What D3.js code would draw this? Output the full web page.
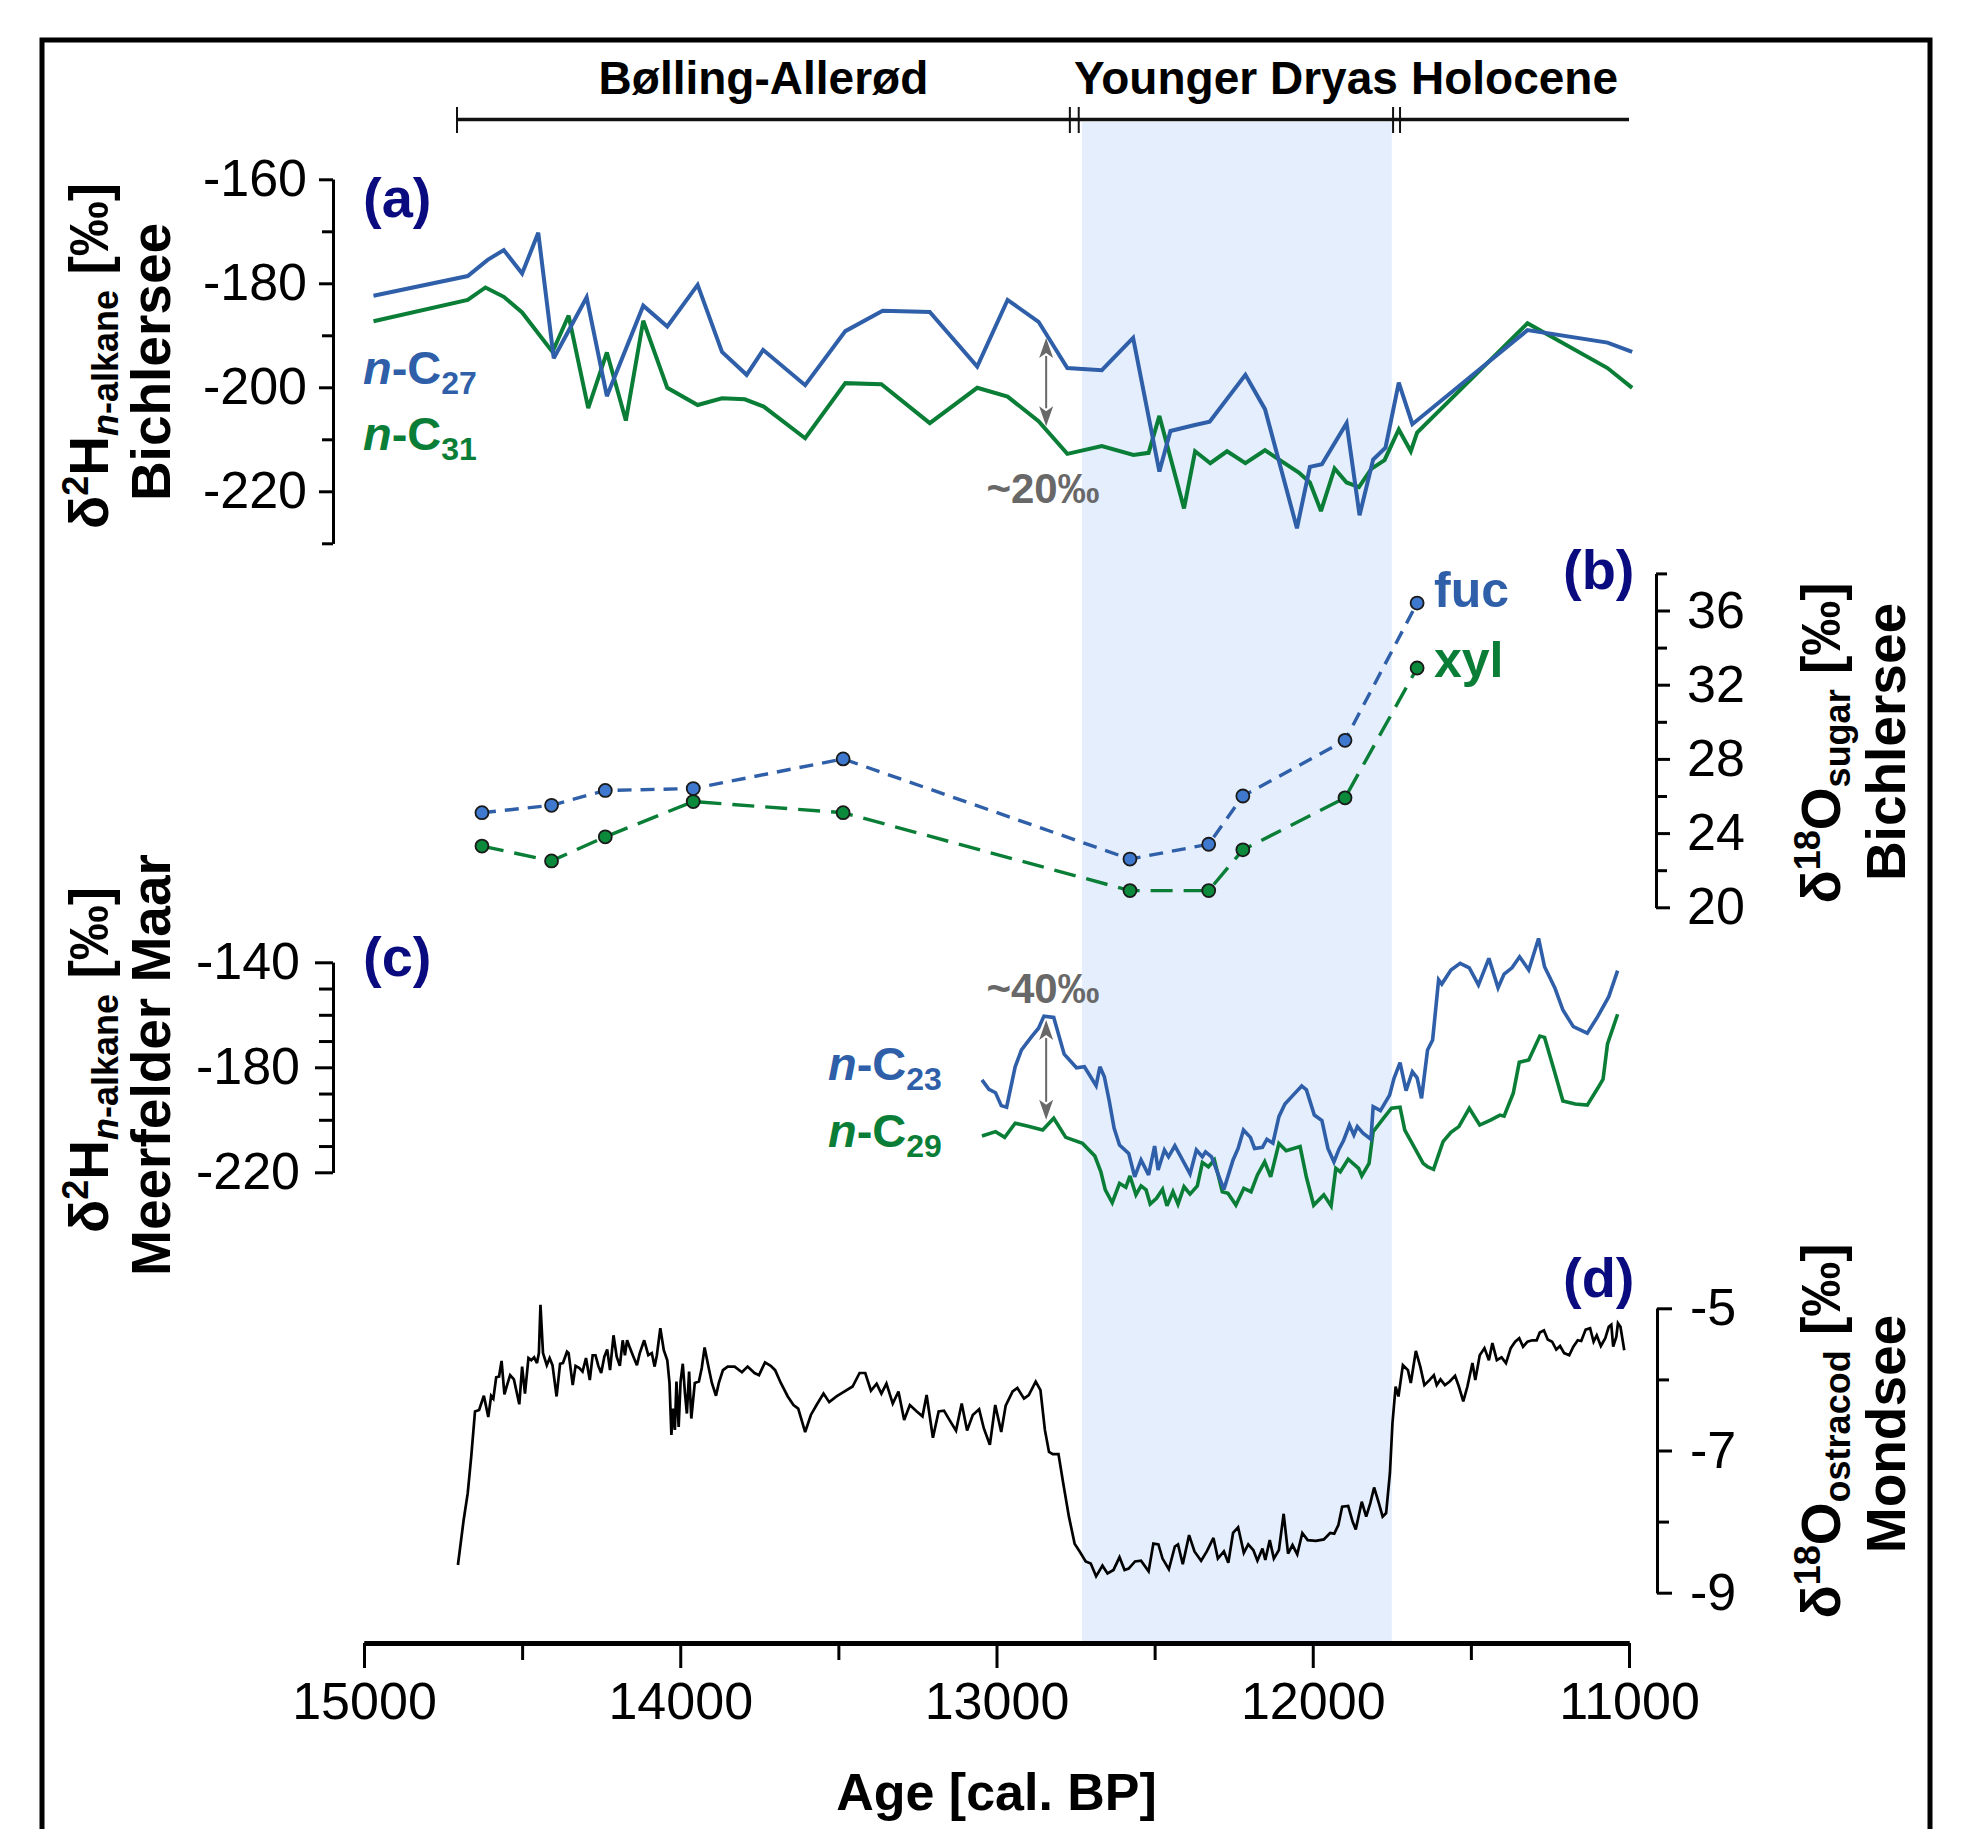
<!DOCTYPE html>
<html>
<head>
<meta charset="utf-8">
<script src="https://cdn.jsdelivr.net/npm/d3@7/dist/d3.min.js"></script>
<style>
  body { margin: 0; background: #fff; }
  svg text { font-family: "Liberation Sans", Arial, Helvetica, sans-serif; }
</style>
</head>
<body>
<svg id="chart" width="1962" height="1829"></svg>
<script>
// ---------- data ----------
// climate periods (cal. BP) for the bar on top
const periodNames = ["Bølling-Allerød", "Younger Dryas", "Holocene"];
const periodBounds = [[14706, 12768], [12740, 11746], [11724, 11000]];
const youngerDryas = [12730, 11750];

// (a) Bichlersee δ2H n-alkanes [age, ‰]
const nC27 = [[14970,-182.4],[14672,-178.6],[14609,-175.5],[14558,-173.6],[14500,-178.1],[14449,-170.3],[14400,-194.4],[14296,-182.7],[14232,-201.7],[14117,-184.3],[14041,-188.3],[13945,-180.3],[13868,-193.2],[13790,-197.6],[13738,-192.8],[13605,-199.6],[13478,-189.2],[13360,-185.3],[13211,-185.5],[13061,-196.0],[12965,-183.2],[12867,-187.4],[12776,-196.3],[12667,-196.7],[12568,-190.5],[12485,-216.2],[12450,-208.4],[12376,-207.3],[12326,-206.6],[12213,-197.6],[12151,-204.2],[12050,-227.1],[12009,-215.3],[11971,-214.8],[11893,-206.9],[11852,-224.6],[11809,-213.9],[11770,-211.6],[11728,-199.1],[11685,-207.1],[11321,-189.0],[11068,-191.4],[10990,-193.2]];
const nC31 = [[14970,-187.3],[14672,-183.2],[14616,-180.8],[14558,-182.6],[14500,-185.6],[14404,-193.2],[14353,-186.2],[14291,-204.0],[14232,-193.3],[14172,-206.4],[14117,-187.2],[14041,-200.1],[13945,-203.4],[13868,-202.1],[13796,-202.3],[13736,-203.7],[13605,-209.8],[13478,-199.2],[13364,-199.4],[13211,-206.9],[13061,-200.1],[12965,-201.8],[12867,-206.5],[12776,-212.8],[12667,-211.3],[12567,-213.0],[12519,-212.6],[12485,-205.5],[12407,-223.3],[12372,-212.3],[12324,-214.6],[12271,-212.3],[12213,-214.6],[12151,-212.1],[12044,-216.4],[12009,-218.3],[11974,-223.8],[11931,-215.6],[11893,-218.3],[11854,-219.2],[11815,-215.7],[11773,-214.0],[11728,-208.1],[11690,-212.3],[11670,-208.7],[11321,-187.7],[11068,-196.3],[10990,-200.1]];

// (b) Bichlersee δ18O of sugars
const sugarAge = [14627, 14407, 14237, 13959, 13485, 12578, 12329, 12221, 11898, 11670];
const fucValues = [25.1, 25.5, 26.3, 26.4, 28.0, 22.6, 23.4, 26.0, 29.0, 36.4];
const xylValues = [23.3, 22.5, 23.8, 25.7, 25.1, 20.9, 20.9, 23.1, 25.9, 32.9];

// (c) Meerfelder Maar δ2H n-alkanes [age, ‰]
const nC23 = [[13046,-184.8],[13024,-188.4],[13003,-189.7],[12985,-194.6],[12968,-195.2],[12941,-179.8],[12921,-173.4],[12889,-168.3],[12867,-165.1],[12850,-160.5],[12819,-161.0],[12786,-175.0],[12747,-180.2],[12722,-179.8],[12685,-187.0],[12673,-179.8],[12659,-183.6],[12644,-192.5],[12628,-203.2],[12611,-209.6],[12582,-212.8],[12563,-221.7],[12543,-215.3],[12519,-221.0],[12500,-210.0],[12489,-219.1],[12469,-211.5],[12456,-214.1],[12436,-209.9],[12417,-214.1],[12388,-220.6],[12368,-211.5],[12349,-214.1],[12339,-212.2],[12320,-214.1],[12281,-226.5],[12252,-215.3],[12236,-210.9],[12219,-203.9],[12197,-206.7],[12184,-210.9],[12159,-210.5],[12145,-207.4],[12126,-208.9],[12107,-198.8],[12088,-194.0],[12062,-190.6],[12035,-187.1],[12020,-188.6],[11995,-198.2],[11971,-200.3],[11952,-210.9],[11933,-216.0],[11917,-211.2],[11903,-208.0],[11884,-202.0],[11870,-205.8],[11859,-202.6],[11841,-205.1],[11816,-207.4],[11809,-195.0],[11786,-196.5],[11757,-190.6],[11743,-184.2],[11724,-178.2],[11705,-188.9],[11685,-181.7],[11670,-184.0],[11656,-191.8],[11637,-173.4],[11621,-169.6],[11602,-146.7],[11592,-148.3],[11563,-142.9],[11534,-140.4],[11505,-142.1],[11476,-148.6],[11443,-138.5],[11414,-149.7],[11395,-144.5],[11370,-142.1],[11346,-137.9],[11317,-142.9],[11286,-130.9],[11267,-141.7],[11234,-149.9],[11209,-158.2],[11176,-164.5],[11132,-167.0],[11099,-160.7],[11064,-153.1],[11036,-143.2]];
const nC29 = [[13046,-206.2],[13003,-204.5],[12974,-206.7],[12941,-201.3],[12903,-202.4],[12854,-203.9],[12819,-199.4],[12781,-206.7],[12728,-209.0],[12689,-213.8],[12670,-219.8],[12656,-226.7],[12634,-231.6],[12611,-224.2],[12591,-225.7],[12578,-221.4],[12559,-228.6],[12543,-225.2],[12527,-226.7],[12514,-232.1],[12494,-229.9],[12475,-226.5],[12461,-232.8],[12442,-227.4],[12426,-232.1],[12407,-225.5],[12388,-228.3],[12365,-225.2],[12349,-216.3],[12330,-217.9],[12311,-215.3],[12286,-227.4],[12268,-228.0],[12243,-232.5],[12218,-226.1],[12195,-227.4],[12175,-221.0],[12152,-216.0],[12133,-221.7],[12107,-209.0],[12084,-211.8],[12040,-210.2],[12020,-221.9],[11997,-232.5],[11965,-228.6],[11942,-232.8],[11927,-218.5],[11913,-219.8],[11888,-215.0],[11855,-218.5],[11845,-221.4],[11822,-216.6],[11809,-204.5],[11776,-199.4],[11751,-195.6],[11724,-195.2],[11709,-203.9],[11680,-210.2],[11651,-216.6],[11637,-217.9],[11618,-218.9],[11588,-208.3],[11563,-204.8],[11538,-202.6],[11505,-195.6],[11472,-202.0],[11438,-200.1],[11408,-198.2],[11395,-198.6],[11366,-189.9],[11347,-178.1],[11317,-177.2],[11282,-168.1],[11267,-168.6],[11237,-181.0],[11209,-192.8],[11170,-194.0],[11132,-194.4],[11099,-188.0],[11082,-184.5],[11068,-171.1],[11036,-159.8]];

// (d) Mondsee δ18O ostracods [age, ‰]
const ostracod = [[14703,-8.61],[14685,-7.98],[14672,-7.60],[14661,-7.09],[14649,-6.45],[14636,-6.43],[14621,-6.23],[14607,-6.53],[14598,-6.23],[14591,-6.27],[14582,-5.97],[14573,-5.96],[14565,-5.74],[14556,-6.21],[14549,-6.10],[14538,-5.94],[14526,-6.00],[14509,-6.35],[14500,-5.82],[14491,-6.20],[14480,-5.70],[14471,-5.73],[14462,-5.69],[14453,-5.77],[14447,-5.63],[14442,-4.95],[14434,-5.63],[14422,-5.80],[14413,-5.70],[14404,-5.80],[14391,-6.24],[14380,-5.78],[14371,-5.77],[14358,-5.61],[14353,-5.63],[14340,-6.08],[14331,-5.81],[14319,-5.84],[14309,-5.89],[14298,-5.70],[14286,-6.01],[14277,-5.66],[14268,-5.66],[14259,-5.81],[14250,-5.91],[14240,-5.68],[14231,-5.58],[14222,-5.87],[14211,-5.38],[14201,-5.68],[14191,-5.81],[14182,-5.45],[14175,-5.66],[14168,-5.45],[14159,-5.56],[14150,-5.66],[14137,-5.80],[14128,-5.63],[14114,-5.45],[14101,-5.66],[14090,-5.63],[14081,-5.82],[14074,-5.66],[14063,-5.28],[14052,-5.59],[14041,-5.73],[14034,-6.05],[14028,-6.78],[14023,-6.41],[14017,-6.71],[14012,-6.03],[14005,-6.67],[13999,-6.03],[13992,-5.78],[13985,-6.20],[13979,-6.48],[13972,-5.89],[13965,-6.55],[13954,-6.05],[13941,-6.03],[13932,-5.84],[13923,-5.55],[13910,-5.84],[13900,-6.05],[13887,-6.23],[13878,-6.05],[13865,-5.87],[13850,-5.82],[13828,-5.82],[13805,-5.90],[13787,-5.82],[13765,-5.91],[13751,-5.94],[13732,-5.76],[13714,-5.81],[13700,-5.87],[13682,-6.05],[13660,-6.24],[13642,-6.36],[13627,-6.41],[13605,-6.74],[13587,-6.50],[13569,-6.36],[13547,-6.20],[13529,-6.32],[13506,-6.24],[13488,-6.19],[13455,-6.10],[13433,-5.91],[13415,-5.91],[13397,-6.16],[13379,-6.06],[13364,-6.20],[13348,-6.06],[13328,-6.34],[13310,-6.17],[13292,-6.57],[13274,-6.36],[13252,-6.45],[13234,-6.52],[13221,-6.22],[13201,-6.82],[13183,-6.45],[13166,-6.44],[13146,-6.59],[13128,-6.72],[13110,-6.34],[13093,-6.72],[13075,-6.50],[13055,-6.42],[13040,-6.69],[13021,-6.92],[13004,-6.36],[12985,-6.74],[12971,-6.37],[12949,-6.17],[12934,-6.12],[12913,-6.27],[12898,-6.22],[12876,-6.03],[12861,-6.15],[12847,-6.71],[12834,-7.02],[12822,-7.05],[12804,-7.05],[12789,-7.46],[12771,-7.93],[12753,-8.31],[12737,-8.42],[12718,-8.56],[12702,-8.59],[12685,-8.77],[12665,-8.62],[12649,-8.73],[12630,-8.68],[12611,-8.50],[12595,-8.68],[12582,-8.66],[12562,-8.56],[12543,-8.55],[12519,-8.70],[12504,-8.31],[12488,-8.32],[12475,-8.52],[12455,-8.67],[12436,-8.35],[12426,-8.32],[12411,-8.60],[12391,-8.19],[12374,-8.42],[12353,-8.55],[12335,-8.42],[12314,-8.23],[12300,-8.52],[12281,-8.42],[12267,-8.58],[12252,-8.16],[12236,-8.08],[12218,-8.44],[12204,-8.32],[12188,-8.40],[12175,-8.55],[12159,-8.38],[12150,-8.54],[12136,-8.26],[12123,-8.52],[12107,-8.40],[12092,-7.89],[12078,-8.45],[12064,-8.33],[12049,-8.46],[12033,-8.16],[12016,-8.26],[11990,-8.27],[11965,-8.25],[11945,-8.16],[11932,-8.17],[11919,-8.05],[11907,-7.79],[11888,-7.78],[11874,-8.00],[11864,-8.11],[11845,-7.72],[11831,-7.93],[11818,-7.74],[11806,-7.52],[11791,-7.74],[11779,-7.93],[11768,-7.88],[11756,-7.32],[11748,-6.62],[11738,-6.10],[11729,-6.24],[11715,-5.80],[11699,-5.87],[11690,-6.05],[11674,-5.60],[11660,-5.82],[11647,-6.08],[11631,-6.01],[11617,-5.94],[11608,-6.08],[11596,-6.00],[11582,-6.08],[11567,-6.03],[11550,-5.95],[11538,-6.10],[11524,-6.31],[11511,-6.10],[11495,-5.77],[11486,-6.01],[11472,-5.66],[11457,-5.56],[11443,-5.73],[11432,-5.49],[11418,-5.73],[11403,-5.69],[11389,-5.77],[11374,-5.56],[11360,-5.47],[11347,-5.42],[11335,-5.54],[11321,-5.47],[11306,-5.45],[11292,-5.45],[11282,-5.34],[11269,-5.31],[11257,-5.44],[11243,-5.47],[11230,-5.58],[11218,-5.53],[11205,-5.63],[11189,-5.66],[11176,-5.54],[11162,-5.45],[11151,-5.46],[11137,-5.30],[11123,-5.28],[11112,-5.47],[11102,-5.38],[11089,-5.53],[11075,-5.42],[11064,-5.26],[11056,-5.23],[11050,-5.54],[11040,-5.40],[11035,-5.21],[11027,-5.26],[11015,-5.59]];

// offsets marked by double arrows: [age, upper value, lower value]
const offsetA = [12843, -190.5, -207.5];
const offsetC = [12843, -162.0, -200.0];

// axis ticks
const ageMajor = [15000, 14000, 13000, 12000, 11000];
const ageMinor = [14500, 13500, 12500, 11500];
const aMajor = [-160, -180, -200, -220];
const aMinor = [-170, -190, -210, -230];
const bMajor = [20, 24, 28, 32, 36];
const bMinor = [22, 26, 30, 34, 38];
const cMajor = [-140, -180, -220];
const cMinor = [-150, -160, -170, -190, -200, -210];
const dMajor = [-5, -7, -9];
const dMinor = [-6, -8];

// ---------- styles ----------
const BLUE = "#2F5FA8", GREEN = "#0A7E36", NAVY = "#0B0B80", GREY = "#686868";
const BAND = "#E4EEFD";

// ---------- scales ----------
const svg = d3.select("#chart");
const x = d3.scaleLinear().domain([15000, 11000]).range([364, 1629]);
const yA = d3.scaleLinear().domain([-230, -160]).range([543.3, 179.3]);
const yB = d3.scaleLinear().domain([20, 38]).range([907.3, 573.4]);
const yC = d3.scaleLinear().domain([-220, -140]).range([1172.3, 962.3]);
const yD = d3.scaleLinear().domain([-9, -5]).range([1592.7, 1308.3]);
const axisY = 1643;

// Younger Dryas shading
svg.append("rect")
  .attr("x", x(youngerDryas[0])).attr("y", 122)
  .attr("width", x(youngerDryas[1]) - x(youngerDryas[0]))
  .attr("height", axisY - 122)
  .attr("fill", BAND);

// outer frame
svg.append("rect").attr("x", 42).attr("y", 40).attr("width", 1888).attr("height", 1850)
  .attr("fill", "none").attr("stroke", "#000").attr("stroke-width", 5);

// ---------- period bar ----------
const pg = svg.append("g");
pg.append("line").attr("x1", x(periodBounds[0][0])).attr("x2", x(periodBounds[2][1]))
  .attr("y1", 119.5).attr("y2", 119.5).attr("stroke", "#111").attr("stroke-width", 3.5);
const periodTicks = [periodBounds[0][0], periodBounds[0][1], periodBounds[1][0], periodBounds[1][1], periodBounds[2][0]];
pg.selectAll(".ptick").data(periodTicks).join("line")
  .attr("x1", d => x(d)).attr("x2", d => x(d)).attr("y1", 107).attr("y2", 133)
  .attr("stroke", "#111").attr("stroke-width", 2);
pg.selectAll(".plabel").data(periodNames).join("text")
  .attr("x", (d, i) => (x(periodBounds[i][0]) + x(periodBounds[i][1])) / 2)
  .attr("y", 94).attr("text-anchor", "middle")
  .attr("font-size", 46).attr("font-weight", "bold").text(d => d);

// ---------- axis helpers ----------
function styleAxis(g, domainW, tickW) {
  g.select(".domain").attr("stroke", "#000").attr("stroke-width", domainW);
  g.selectAll(".tick line").attr("stroke", "#000").attr("stroke-width", tickW);
  g.selectAll(".tick text").attr("fill", "#000").attr("font-size", 52)
    .attr("font-family", '"Liberation Sans", Arial, sans-serif');
}
function vAxis(scale, major, minor, xPos, side, majorLen, minorLen, pad) {
  const mk = side === "left" ? d3.axisLeft : d3.axisRight;
  const gMinor = svg.append("g").attr("transform", `translate(${xPos},0)`)
    .call(mk(scale).tickValues(minor).tickSize(minorLen).tickSizeOuter(0).tickFormat(""));
  styleAxis(gMinor, 3, 3);
  const gMajor = svg.append("g").attr("transform", `translate(${xPos},0)`)
    .call(mk(scale).tickValues(major).tickSize(majorLen).tickSizeOuter(0)
      .tickPadding(pad).tickFormat(d => String(d)));
  styleAxis(gMajor, 3, 3);
}

vAxis(yA, aMajor, aMinor, 333, "left", 14, 11, 12);
vAxis(yC, cMajor, cMinor, 333, "left", 18, 14, 15);
vAxis(yB, bMajor, bMinor, 1656, "right", 14, 11, 17);
vAxis(yD, dMajor, dMinor, 1657, "right", 15, 12, 18);

// age axis
const gxMinor = svg.append("g").attr("transform", `translate(0,${axisY})`)
  .call(d3.axisBottom(x).tickValues(ageMinor).tickSize(17).tickSizeOuter(0).tickFormat(""));
styleAxis(gxMinor, 5, 3);
const gxMajor = svg.append("g").attr("transform", `translate(0,${axisY})`)
  .call(d3.axisBottom(x).tickValues(ageMajor).tickSize(25).tickSizeOuter(0).tickPadding(14)
    .tickFormat(d => String(d)));
styleAxis(gxMajor, 5, 3);

svg.append("text").attr("x", (x(15000) + x(11000)) / 2).attr("y", 1810)
  .attr("text-anchor", "middle").attr("font-size", 52).attr("font-weight", "bold")
  .text("Age [cal. BP]");

// ---------- rich text helper (sub/superscripts, italics) ----------
function rich(parent, parts, attrs) {
  const t = parent.append("text");
  Object.entries(attrs).forEach(([k, v]) => t.attr(k, v));
  let shift = 0;
  parts.forEach(p => {
    const s = p.shift || 0;
    const ts = t.append("tspan").text(p.t);
    if (s !== shift) ts.attr("dy", s - shift);
    shift = s;
    if (p.size) ts.attr("font-size", p.size);
    if (p.italic) ts.attr("font-style", "italic");
    if (p.weight) ts.attr("font-weight", p.weight);
  });
  return t;
}

// axis titles (rotated)
function vTitle(cx, cy, parts) {
  const g = svg.append("g").attr("transform", `translate(${cx},${cy}) rotate(-90)`);
  rich(g, parts, { x: 0, y: 0, "text-anchor": "middle", "font-size": 55, "font-weight": "bold" });
}
const dH = () => [
  { t: "δ" }, { t: "2", size: 36, shift: -20 }, { t: "H", shift: 0 },
  { t: "n", size: 36, italic: true, shift: 10 }, { t: "-alkane", size: 36, shift: 10 },
  { t: " [‰]", shift: 0 }
];
const dO = sub => [
  { t: "δ" }, { t: "18", size: 36, shift: -20 }, { t: "O", shift: 0 },
  { t: sub, size: 36, shift: 10 }, { t: " [‰]", shift: 0 }
];
vTitle(108, 356, dH());
vTitle(170, 362, [{ t: "Bichlersee" }]);
vTitle(108, 1060, dH());
vTitle(170, 1065, [{ t: "Meerfelder Maar" }]);
vTitle(1840, 743, dO("sugar"));
vTitle(1905, 742, [{ t: "Bichlersee" }]);
vTitle(1840, 1431, dO("ostracod"));
vTitle(1905, 1434, [{ t: "Mondsee" }]);

// panel letters
[["(a)", 363, 217], ["(b)", 1563, 589], ["(c)", 363, 976], ["(d)", 1563, 1297]].forEach(([t, px, py]) => {
  svg.append("text").attr("x", px).attr("y", py).attr("font-size", 56)
    .attr("font-weight", "bold").attr("fill", NAVY).text(t);
});

// ---------- series ----------
function trace(data, ys, color, width) {
  svg.append("path").datum(data)
    .attr("d", d3.line().x(d => x(d[0])).y(d => ys(d[1])))
    .attr("fill", "none").attr("stroke", color).attr("stroke-width", width)
    .attr("stroke-linejoin", "miter").attr("stroke-miterlimit", 3);
}

// (a)
trace(nC31, yA, GREEN, 4);
trace(nC27, yA, BLUE, 4);

// (b)
function sugarSeries(vals, color, fill, dash) {
  const pts = sugarAge.map((a, i) => [a, vals[i]]);
  svg.append("path").datum(pts)
    .attr("d", d3.line().x(d => x(d[0])).y(d => yB(d[1])))
    .attr("fill", "none").attr("stroke", color).attr("stroke-width", 3.4)
    .attr("stroke-dasharray", dash);
  svg.selectAll(null).data(pts).join("circle")
    .attr("cx", d => x(d[0])).attr("cy", d => yB(d[1])).attr("r", 6.5)
    .attr("fill", fill).attr("stroke", "#1a1a1a").attr("stroke-width", 1.8);
}
sugarSeries(xylValues, GREEN, "#0C8A3C", "22,11");
sugarSeries(fucValues, BLUE, "#3F79CF", "14,9");

// (c)
trace(nC29, yC, GREEN, 3.6);
trace(nC23, yC, BLUE, 3.6);

// (d)
trace(ostracod, yD, "#000", 2.7);

// ---------- offset arrows ----------
function doubleArrow(o, ys) {
  const ax = x(o[0]), y1 = ys(o[1]), y2 = ys(o[2]);
  const hl = 20, hw = 7;
  svg.append("line").attr("x1", ax).attr("x2", ax).attr("y1", y1 + hl - 2).attr("y2", y2 - hl + 2)
    .attr("stroke", GREY).attr("stroke-width", 2);
  svg.append("path").attr("d", `M${ax},${y1} L${ax - hw},${y1 + hl} L${ax},${y1 + hl - 5} L${ax + hw},${y1 + hl} Z`).attr("fill", GREY);
  svg.append("path").attr("d", `M${ax},${y2} L${ax - hw},${y2 - hl} L${ax},${y2 - hl + 5} L${ax + hw},${y2 - hl} Z`).attr("fill", GREY);
}
doubleArrow(offsetA, yA);
doubleArrow(offsetC, yC);
svg.append("text").attr("x", 1043).attr("y", 503).attr("text-anchor", "middle")
  .attr("font-size", 42).attr("font-weight", "bold").attr("fill", GREY).text("~20‰");
svg.append("text").attr("x", 1043).attr("y", 1003).attr("text-anchor", "middle")
  .attr("font-size", 42).attr("font-weight", "bold").attr("fill", GREY).text("~40‰");

// ---------- series labels ----------
function chainLabel(px, py, num, color) {
  rich(svg, [
    { t: "n", italic: true }, { t: "-C" }, { t: num, size: 32, shift: 10 }
  ], { x: px, y: py, "font-size": 47, "font-weight": "bold", fill: color });
}
chainLabel(363, 384, "27", BLUE);
chainLabel(363, 450, "31", GREEN);
chainLabel(828, 1080, "23", BLUE);
chainLabel(828, 1147, "29", GREEN);

svg.append("text").attr("x", 1434).attr("y", 607).attr("font-size", 50)
  .attr("font-weight", "bold").attr("fill", BLUE).text("fuc");
svg.append("text").attr("x", 1434).attr("y", 677).attr("font-size", 50)
  .attr("font-weight", "bold").attr("fill", GREEN).text("xyl");
</script>
</body>
</html>
